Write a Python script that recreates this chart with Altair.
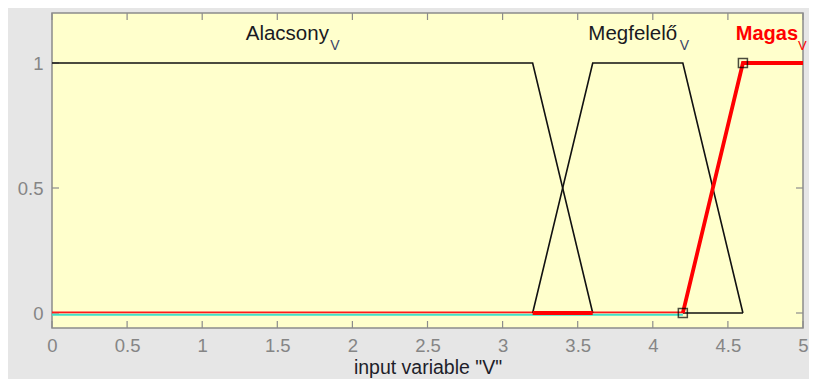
import altair as alt
import pandas as pd

# ---- data ----
x_ticks = [0, 0.5, 1, 1.5, 2, 2.5, 3, 3.5, 4, 4.5, 5]
y_ticks = [0, 0.5, 1]

alacsony_x = [0, 3.2, 3.6]
alacsony_y = [1, 1, 0]
megfelelo_x = [3.2, 3.6, 4.2, 4.6]
megfelelo_y = [0, 1, 1, 0]
magas_x = [4.2, 4.6, 5.0]
magas_y = [0, 1, 1]

zero_cyan_x = [0, 4.2]
zero_red_x = [0, 4.2]
zero_thick_x = [3.2, 3.6]
zero_black_x = [4.2, 4.6]

marker_x = [4.2, 4.6]
marker_y = [0, 1]

label_names = ["Alacsony", "Megfelelő", "Magas"]
label_x = [1.6, 3.9, 4.8]
label_y = [1.094, 1.094, 1.094]
label_sub = ["V", "V", "V"]

# ---- chart ----
W, H = 751, 315
FONT = "Liberation Sans"

xs = alt.Scale(domain=[0, 5], nice=False, zero=False)
ys = alt.Scale(domain=[-0.06, 1.2], nice=False, zero=False)

x_axis = alt.Axis(values=x_ticks, format="~g", grid=False, ticks=False, domain=False,
                  labelFont=FONT, labelFontSize=18.5, labelColor="#858585", labelPadding=8,
                  labelFlush=False, title='input variable "V"', titleFont=FONT,
                  titleFontSize=19.5, titleFontWeight="normal", titleColor="#1e1e2a",
                  titleBaseline="alphabetic", titleY=45)
y_axis = alt.Axis(values=y_ticks, format="~g", grid=False, ticks=False, domain=False,
                  labelFont=FONT, labelFontSize=18.5, labelColor="#858585", labelPadding=9,
                  labelFlush=False, title=None)

X = alt.X("x:Q", scale=xs, axis=x_axis)
Y = alt.Y("y:Q", scale=ys, axis=y_axis)


def line_df(xv, yv):
    return pd.DataFrame({"x": xv, "y": yv, "order": list(range(len(xv)))})


def line(df, color, width, yoff=0):
    return alt.Chart(df).mark_line(color=color, strokeWidth=width, yOffset=yoff).encode(
        x=X, y=Y, order="order:Q")


layers = []
# tick marks (inward)
tx = pd.DataFrame({"x": x_ticks})
ty = pd.DataFrame({"y": y_ticks})
tick_style = dict(color="#8c8c8c", strokeWidth=1.2)
layers.append(alt.Chart(tx).mark_rule(**tick_style).encode(x=X, y=alt.value(H - 7), y2=alt.value(H)))
layers.append(alt.Chart(tx).mark_rule(**tick_style).encode(x=X, y=alt.value(0), y2=alt.value(7)))
layers.append(alt.Chart(ty).mark_rule(**tick_style).encode(y=Y, x=alt.value(0), x2=alt.value(7)))
layers.append(alt.Chart(ty).mark_rule(**tick_style).encode(y=Y, x=alt.value(W - 7), x2=alt.value(W)))

# zero-level lines
layers.append(line(line_df(zero_cyan_x, [0] * len(zero_cyan_x)), "#40E0C8", 2.0, 1.8))
layers.append(line(line_df(zero_red_x, [0] * len(zero_red_x)), "#FF1A1A", 1.8, -0.6))
layers.append(line(line_df(zero_black_x, [0] * len(zero_black_x)), "#111111", 1.5))

# membership functions
layers.append(line(line_df(alacsony_x, alacsony_y), "#111111", 1.6))
layers.append(line(line_df(megfelelo_x, megfelelo_y), "#111111", 1.6))
layers.append(line(line_df(zero_thick_x, [0] * len(zero_thick_x)), "#FF0000", 3.8))
layers.append(line(line_df(magas_x, magas_y), "#FF0000", 3.8))

# markers
layers.append(alt.Chart(pd.DataFrame({"x": marker_x, "y": marker_y})).mark_square(
    filled=False, color="#000000", size=81, strokeWidth=1.5).encode(x=X, y=Y))

# labels with subscripts
label_style = [
    dict(color="#1a1a22", fontWeight="normal", fontSize=20.5, dx=-5, sub_dx=38,
         sub_size=14, sub_color="#3a4468"),
    dict(color="#1a1a22", fontWeight="normal", fontSize=20.5, dx=-5, sub_dx=42,
         sub_size=14, sub_color="#3a4468"),
    dict(color="#FF0000", fontWeight="bold", fontSize=20, dx=-6, sub_dx=25,
         sub_size=13, sub_color="#FF0000"),
]
for i, name in enumerate(label_names):
    st = label_style[i]
    d = pd.DataFrame({"x": [label_x[i]], "y": [label_y[i]], "t": [name], "s": [label_sub[i]]})
    layers.append(alt.Chart(d).mark_text(
        align="center", baseline="alphabetic", dx=st["dx"], font=FONT, fontSize=st["fontSize"],
        fontWeight=st["fontWeight"], color=st["color"]).encode(x=X, y=Y, text="t:N"))
    layers.append(alt.Chart(d).mark_text(
        align="left", baseline="alphabetic", dx=st["sub_dx"], dy=10, font=FONT,
        fontSize=st["sub_size"], fontWeight="normal", color=st["sub_color"]).encode(
        x=X, y=Y, text="s:N"))

chart = alt.layer(*layers).properties(
    width=W, height=H,
    autosize="none",
    padding={"left": 44, "top": 5, "right": 6, "bottom": 51},
    background="#E6E6E6",
).configure_view(fill="#FFFFCC", stroke="#8c8c8c", strokeWidth=1.5)

chart.save("out.html", embed_options={"renderer": "svg", "actions": False})
